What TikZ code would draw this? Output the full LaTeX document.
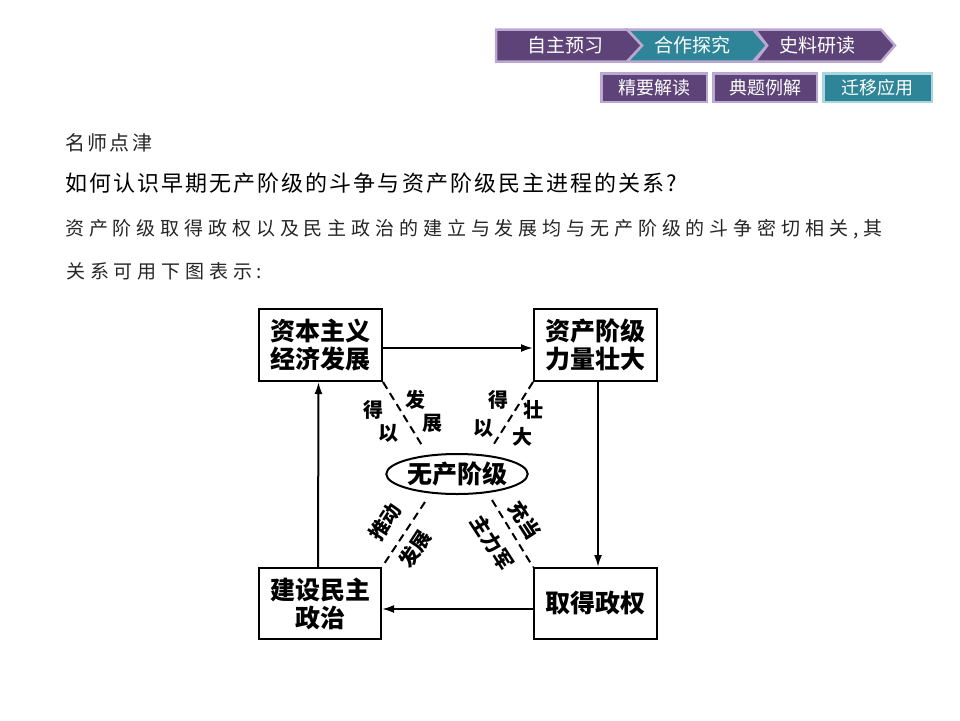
\documentclass[tikz,border=0pt]{standalone}
\usepackage{fontspec}
\newfontfamily\cjk{Noto Sans CJK SC}
\usetikzlibrary{arrows.meta,shapes.geometric}
\definecolor{navpurple}{HTML}{5E4379}
\definecolor{navteal}{HTML}{2E8598}
\definecolor{navborder}{HTML}{BBA8D2}
\definecolor{tealborder}{HTML}{A9D6E0}
\def\spr#1#2\relax{#1\sprr#2\relax}
\def\sprr#1{\ifx\relax#1\else\hfill#1\expandafter\sprr\fi}
\newcommand\fsz[1]{\fontsize{#1}{#1}\selectfont}
\tikzset{
  tabshape/.style={fill=navpurple, draw=navborder, line width=2.5pt, line join=miter},
  tabtxt/.style={text=white, font=\cjk\fsz{19}, inner sep=0pt},
  btn/.style={fill=navpurple, draw=navborder, line width=2.5pt, text=white,
    font=\cjk\fsz{18}, minimum height=28.5pt, inner sep=0pt},
  bodytxt/.style={anchor=west, inner sep=0pt},
  box/.style={draw, line width=2.4pt, minimum width=122.6pt, align=center,
    inner sep=0pt, font=\cjk\bfseries\fontsize{25}{28}\selectfont},
  arr/.style={line width=2pt, -{Latex[length=12pt,width=8pt]}},
  dashln/.style={line width=2pt, dash pattern=on 8pt off 5pt},
  lbl/.style={inner sep=0pt, font=\cjk\bfseries\fsz{20}},
}
\begin{document}
\begin{tikzpicture}[x=1pt,y=-1pt]
\useasboundingbox[fill=white] (0,0) rectangle (960,720);
% navigation tabs
\draw[tabshape] (755,29.5) -- (881,29.5) -- (895,45.5) -- (881,61.5) -- (755,61.5) -- (767,45.5) -- cycle;
\draw[tabshape, fill=navteal] (627,29.5) -- (753,29.5) -- (767,45.5) -- (753,61.5) -- (627,61.5) -- (642,45.5) -- cycle;
\draw[tabshape] (496,29.5) -- (627,29.5) -- (642,45.5) -- (627,61.5) -- (496,61.5) -- cycle;
\node[tabtxt] (t1) at (565,45) {自主预习};
\node[tabtxt] (t2) at (692,45) {合作探究};
\node[tabtxt] (t3) at (817,45) {史料研读};
\node[btn, minimum width=105.5pt] (m1) at (654,87.5) {精要解读};
\node[btn, minimum width=103.5pt] (m2) at (765,87.5) {典题例解};
\node[btn, minimum width=108.5pt, fill=navteal, draw=tealborder] (m3) at (877.5,87.5) {迁移应用};
% body text
\node[bodytxt, font=\cjk\fsz{20}, text=black!85] (h1) at (65,143) {\makebox[87pt][s]{\spr 名师点津\relax}};
\node[bodytxt, font=\cjk\fsz{22}] (h2) at (65,183) {\makebox[612pt][s]{\spr 如何认识早期无产阶级的斗争与资产阶级民主进程的关系?\relax}};
\node[bodytxt, font=\cjk\fsz{19}, text=black!85] (p1) at (65,229) {\makebox[817pt][s]{\spr 资产阶级取得政权以及民主政治的建立与发展均与无产阶级的斗争密切相关,其\relax}};
\node[bodytxt, font=\cjk\fsz{19}, text=black!85] (p2) at (66,271) {\makebox[196pt][s]{\spr 关系可用下图表示:\relax}};
% diagram
\node[box, minimum height=71.6pt] (b1) at (320.5,345) {资本主义\\经济发展};
\node[box, minimum height=71.6pt] (b2) at (595.5,345) {资产阶级\\力量壮大};
\node[box, minimum height=70.6pt, minimum width=121.6pt] (b3) at (320,603.5) {建设民主\\政治};
\node[box, minimum height=70.6pt] (b4) at (595.5,603.5) {取得政权};
\node[ellipse, draw, line width=2pt, minimum width=138pt, minimum height=40pt, inner sep=0pt,
  font=\cjk\bfseries\fsz{25}] (p) at (457,474) {无产阶级};
\draw[arr] ([yshift=-3pt]b1.east) -- ([yshift=-3pt]b2.west);
\draw[arr] ([xshift=2.5pt]b2.south) -- ([xshift=2.5pt]b4.north);
\draw[arr] ([yshift=-5.5pt]b4.west) -- ([yshift=-5.5pt]b3.east);
\draw[arr] ([xshift=-2pt]b3.north) -- ([xshift=-2pt]b1.south);
\coordinate (e1) at (423,447);
\coordinate (e2) at (492,447);
\coordinate (e3) at (425,502);
\coordinate (e4) at (492,500);
\draw[dashln] (b1.south east) -- (e1);
\draw[dashln] (b2.south west) -- (e2);
\draw[dashln] (e3) -- (b3.north east);
\draw[dashln] (e4) -- (b4.north west);
\node[lbl] (l1) at (373,410) {得};
\node[lbl] (l2) at (388,433) {以};
\node[lbl] (l3) at (415,400) {发};
\node[lbl] (l4) at (432,423) {展};
\node[lbl] (l5) at (498,400) {得};
\node[lbl] (l6) at (483,428) {以};
\node[lbl] (l7) at (533,410) {壮};
\node[lbl] (l8) at (522,437) {大};
\node[lbl, rotate=57] (l9) at (385,522) {推动};
\node[lbl, rotate=57] (l10) at (415,549) {发展};
\node[lbl, rotate=-57] (l11) at (525,520) {充当};
\node[lbl, rotate=-57] (l12) at (492,543) {主力军};
\end{tikzpicture}
\end{document}
